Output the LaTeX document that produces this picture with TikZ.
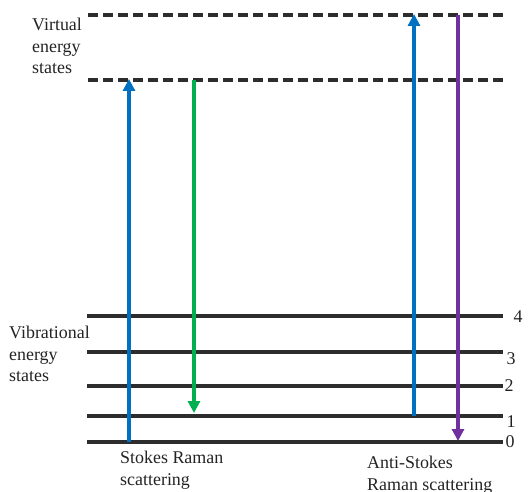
\documentclass[tikz,border=0pt]{standalone}
\usepackage{fontspec}
\setmainfont{Liberation Serif}
\usetikzlibrary{arrows.meta}
\definecolor{lvl}{RGB}{45,45,45}
\definecolor{txt}{RGB}{35,35,35}
\definecolor{pblue}{RGB}{0,112,192}
\definecolor{pgreen}{RGB}{0,176,80}
\definecolor{ppurple}{RGB}{112,48,160}
\tikzset{
  level/.style={draw=lvl,line width=3.2bp},
  virt/.style={draw=lvl,line width=3.2bp,dash pattern=on 10bp off 5bp},
  trans/.style={line width=3.4bp,-{Triangle[length=12bp,width=12bp]}},
  lab/.style={inner sep=0pt,text=txt,font=\fontsize{18}{22}\selectfont,align=left},
  num/.style={inner sep=0pt,text=txt,font=\fontsize{18}{22}\selectfont}
}
\begin{document}
\begin{tikzpicture}[x=1bp,y=-1bp]
\useasboundingbox (0,0) rectangle (528,492);
% virtual levels
\coordinate (v1L) at (88,15); \coordinate (v1R) at (503,15);
\coordinate (v2L) at (88,80); \coordinate (v2R) at (503,80);
\draw[virt] (v1L) -- (v1R);
\draw[virt] (v2L) -- (v2R);
% vibrational levels
\coordinate (l4L) at (87,316); \coordinate (l4R) at (503,316);
\coordinate (l3L) at (87,352); \coordinate (l3R) at (503,352);
\coordinate (l2L) at (87,386); \coordinate (l2R) at (503,386);
\coordinate (l1L) at (87,416); \coordinate (l1R) at (503,416);
\coordinate (l0L) at (87,442); \coordinate (l0R) at (503,442);
\draw[level] (l4L) -- (l4R);
\draw[level] (l3L) -- (l3R);
\draw[level] (l2L) -- (l2R);
\draw[level] (l1L) -- (l1R);
\draw[level] (l0L) -- (l0R);
% level numbers
\node[num] (n4) at (518,317) {4};
\node[num] (n3) at (511,359) {3};
\node[num] (n2) at (509,386) {2};
\node[num] (n1) at (511,422) {1};
\node[num] (n0) at (510,442) {0};
% transitions
\coordinate (a1s) at (129,442); \coordinate (a1e) at (129,79);
\coordinate (a2s) at (194,80); \coordinate (a2e) at (194,413);
\coordinate (a3s) at (414,416); \coordinate (a3e) at (414,14);
\coordinate (a4s) at (458,15); \coordinate (a4e) at (458,441);
\draw[trans,pblue] (a1s) -- (a1e);
\draw[trans,pgreen] (a2s) -- (a2e);
\draw[trans,pblue] (a3s) -- (a3e);
\draw[trans,ppurple] (a4s) -- (a4e);
% labels
\node[lab,anchor=north west] (virtlab) at (32,17.5) {Virtual\\energy\\states};
\node[lab,anchor=north west] (viblab) at (9,325.5) {Vibrational\\energy\\states};
\node[lab,anchor=north west] (stokes) at (120,450.5) {Stokes Raman\\scattering};
\node[lab,anchor=north west] (astokes) at (367,456) {Anti-Stokes\\Raman scattering};
\end{tikzpicture}
\end{document}
